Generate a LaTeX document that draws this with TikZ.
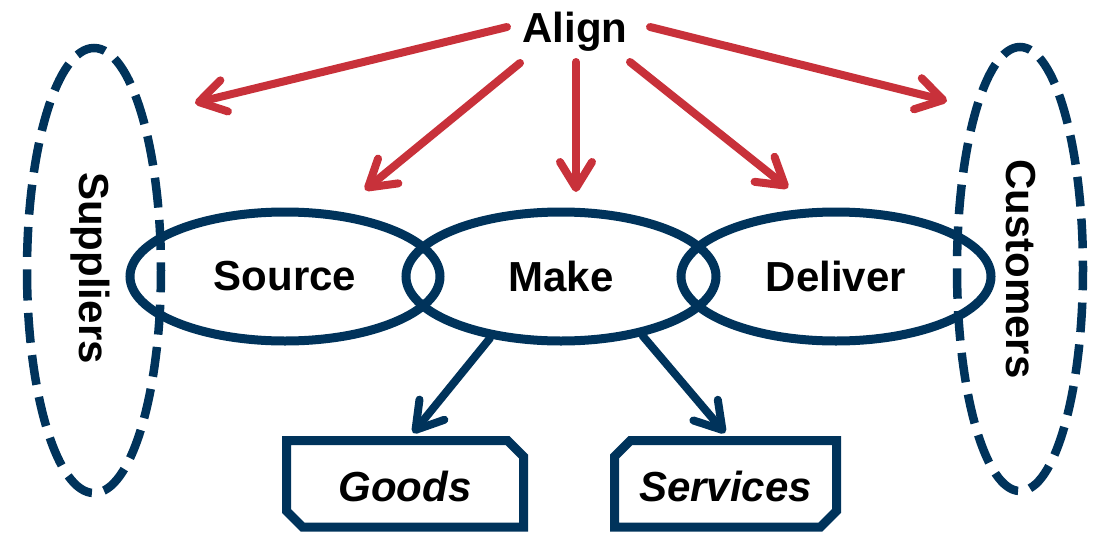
\documentclass[tikz,border=0pt]{standalone}
\usepackage{fontspec}
\setmainfont{Liberation Sans}
\usetikzlibrary{arrows.meta,shapes.geometric}
\definecolor{navy}{HTML}{00335B}
\definecolor{alred}{HTML}{C8313A}
\begin{document}
\begin{tikzpicture}[x=1pt,y=-1pt,
  big/.style={font=\fontsize{42}{50}\selectfont\bfseries, text=black},
  proc/.style={ellipse, draw=navy, line width=9pt, minimum width=310pt, minimum height=129pt, inner sep=0pt, big},
  party/.style={ellipse, draw=navy, line width=8.5pt, rotate=180, inner sep=0pt},
  plabel/.style={big, rotate=-90, anchor=base, inner sep=0pt},
  outbox/.style={rectangle, inner sep=0pt, outer sep=0pt, minimum height=86.5pt, font=\fontsize{42}{50}\selectfont\bfseries\itshape, text height=36pt, text depth=0pt},
  boxline/.style={draw=navy, line width=9pt, line join=miter},
  redarr/.style={draw=alred, line width=8pt, line cap=round, -{Straight Barb[length=26pt,width=32pt,line cap=round,line join=round]}},
  bluearr/.style={redarr, draw=navy},
]
\useasboundingbox (0,0) rectangle (1093,533);

% dashed party ellipses
\node[party, minimum width=134pt, minimum height=445pt, dash pattern=on 30pt off 12.4pt] (suppell) at (94,270.5) {};
\node[party, minimum width=126pt, minimum height=444pt, dash pattern=on 29.7pt off 12.3pt] (custell) at (1020,269) {};
\node[plabel] (supp) at (79,268) {Suppliers};
\node[plabel] (cust) at (1006,269) {Customers};

% process ellipses
\node[proc] (source) at (285,276.5) {Source};
\node[proc] (make) at (561,276.5) {Make};
\node[proc] (deliver) at (836,276.5) {Deliver};

% Align and red arrows
\node[big, anchor=base, inner sep=0pt] (align) at (575,42) {Align};
\coordinate (sL) at (507,27);  \coordinate (tL) at (195,103);
\coordinate (sS) at (520,63);  \coordinate (tS) at (365,190);
\coordinate (sM) at (576,62);  \coordinate (tM) at (576,192);
\coordinate (sD) at (630,62);  \coordinate (tD) at (788,188);
\coordinate (sR) at (650,27);  \coordinate (tR) at (947,101);
\draw[redarr] (sL) -- (tL);
\draw[redarr] (sS) -- (tS);
\draw[redarr] (sM) -- (tM);
\draw[redarr] (sD) -- (tD);
\draw[redarr] (sR) -- (tR);

% output boxes
\node[outbox, minimum width=237pt] (goods) at (405,483.75) {Goods};
\node[outbox, minimum width=222pt] (services) at (725.5,483.75) {Services};
\draw[boxline] (goods.north west) -- ([xshift=-16pt]goods.north east) -- ([yshift=-16pt]goods.north east)
  -- (goods.south east) -- ([xshift=16pt]goods.south west) -- ([yshift=16pt]goods.south west) -- cycle;
\draw[boxline] ([xshift=16pt]services.north west) -- (services.north east) -- ([yshift=16pt]services.south east)
  -- ([xshift=-16pt]services.south east) -- (services.south west) -- ([yshift=-16pt]services.north west) -- cycle;

% blue arrows
\coordinate (gtip) at (413,433);
\coordinate (stip) at (725,433);
\draw[bluearr] (make.221) -- (gtip);
\draw[bluearr] (make.324) -- (stip);
\end{tikzpicture}
\end{document}
